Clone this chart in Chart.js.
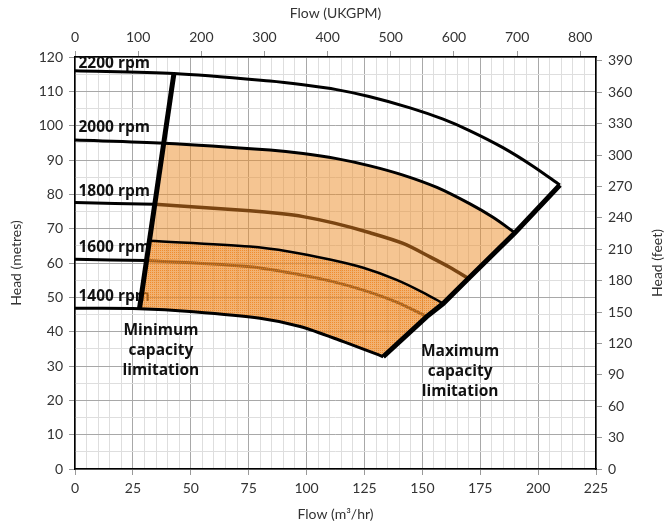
<!DOCTYPE html>
<html>
<head>
<meta charset="utf-8">
<script src="https://cdn.jsdelivr.net/npm/chart.js@4.4.1/dist/chart.umd.min.js"></script>
<style>
html, body { margin: 0; padding: 0; background: #fff; }
#wrap { width: 669px; height: 528px; }
</style>
</head>
<body>
<div id="wrap"><canvas id="pump"></canvas></div>
<script>
// pump curves: flow in m3/hr, head in metres
const flow2200 = [0, 42.75, 84.2, 98.5, 113, 127, 144.7, 159, 170.6, 184.8, 197.8, 209.4];
const head2200 = [116.0, 115.2, 113.0, 111.9, 110.5, 108.5, 105.2, 101.9, 98.5, 93.6, 88.2, 82.7];
const flow2000 = [0, 38.3, 84.2, 98.5, 113, 127.4, 141.7, 156.3, 170.6, 180.5, 190];
const head2000 = [95.8, 94.9, 92.9, 91.9, 90.4, 88.3, 85.6, 82.0, 77.2, 73.3, 68.8];
const flow1800 = [0, 34.5, 75.6, 88.5, 98.5, 112, 127.4, 141.7, 153.3, 162, 169.9];
const head1800 = [77.6, 77.1, 75.2, 74.4, 73.5, 71.6, 68.8, 65.7, 61.8, 58.7, 55.5];
const flow1600 = [0, 30.9, 75.6, 97.2, 110.1, 124.5, 138.9, 151.9];
const head1600 = [61.1, 60.7, 58.9, 56.6, 54.8, 52.1, 48.6, 44.4];
const flow1400 = [0, 27.85, 51.1, 79.9, 97.2, 115.9, 133.1];
const head1400 = [46.8, 46.7, 45.8, 43.9, 41.5, 37.1, 32.7];
// black edge of the darker zone
const flowMid = [32.15, 75.6, 92.8, 110.1, 124.5, 138.9, 150.4, 159];
const headMid = [66.5, 64.8, 63.3, 61.0, 58.6, 55.1, 51.4, 48.2];
// capacity limits
const flowMin = [27.85, 42.75];
const headMin = [46.7, 115.3];
const flowMax = [133.1, 151.9, 159, 169.9, 190, 209.4];
const headMax = [32.7, 44.4, 48.2, 55.5, 68.8, 82.7];

const rpmNames = ["2200 rpm", "2000 rpm", "1800 rpm", "1600 rpm", "1400 rpm"];
const rpmNameHead = [118.0, 99.4, 80.9, 64.6, 50.3];
const rpmNameFlow = 1.5;

const flowTicks = [0, 25, 50, 75, 100, 125, 150, 175, 200, 225];
const headTicks = [0, 10, 20, 30, 40, 50, 60, 70, 80, 90, 100, 110, 120];
const gpmTicks = [0, 100, 200, 300, 400, 500, 600, 700, 800];
const feetTicks = [0, 30, 60, 90, 120, 150, 180, 210, 240, 270, 300, 330, 360, 390];

const M3H_TO_UKGPM = 3.6662;
const M_TO_FT = 3.28084;

function pts(xs, ys) {
  return xs.map((x, i) => ({x: x, y: ys[i]}));
}
function dupEnds(a) {
  return [a[0]].concat(a, [a[a.length - 1]]);
}

const c2000 = pts(flow2000, head2000);
const c1800 = pts(flow1800, head1800);
const c1600 = pts(flow1600, head1600);
const c1400 = pts(flow1400, head1400);
const cMid = pts(flowMid, headMid);
const cMax = pts(flowMax, headMax);

const lightZone = [].concat(
  dupEnds(c2000.slice(1)),
  dupEnds(cMax.filter(p => p.x <= flow2000[flow2000.length - 1]).reverse()),
  dupEnds(c1400.slice(1).reverse())
);
const darkZone = [].concat(
  dupEnds(cMid),
  dupEnds(cMax.filter(p => p.x <= flowMid[flowMid.length - 1]).reverse()),
  dupEnds(c1400.slice(1).reverse())
);

function dotPattern() {
  const c = document.createElement("canvas");
  c.width = 2; c.height = 2;
  const g = c.getContext("2d");
  g.fillStyle = "rgba(235,135,40,0.3)";
  g.fillRect(0, 0, 2, 2);
  g.fillStyle = "rgba(240,125,20,0.7)";
  g.fillRect(0, 0, 1, 1);
  return g.createPattern(c, "repeat");
}

function line(data, color, width, order, tension) {
  return {
    data: data,
    borderColor: color,
    borderWidth: width,
    pointRadius: 0,
    fill: false,
    tension: tension === undefined ? 0.3 : tension,
    order: order
  };
}

const datasets = [
  line(pts(flowMin, headMin), "#000", 5, 1, 0),
  line(cMax, "#000", 5, 1, 0),
  line(pts(flow2200, head2200), "#000", 3, 4),
  line(c2000, "#000", 3, 4),
  line(c1800.slice(0, 2), "#000", 3, 4),
  line(c1600.slice(0, 2), "#000", 3, 4),
  line(c1400, "#000", 3, 4),
  line(cMid, "#000", 2.5, 4),
  {data: darkZone, borderWidth: 0, pointRadius: 0, tension: 0.3, fill: "shape",
   backgroundColor: dotPattern(), order: 6},
  line(c1600.slice(1), "#8a5520", 3, 7),
  line(c1800.slice(1), "#7a4512", 3.5, 8),
  {data: lightZone, borderWidth: 0, pointRadius: 0, tension: 0.3, fill: "shape",
   backgroundColor: "rgba(235,139,37,0.5)", order: 9}
];

const textPlugin = {
  id: "texts",
  beforeDatasetsDraw(chart) {
    const ctx = chart.ctx;
    const xs = chart.scales.x, ys = chart.scales.y;
    ctx.save();
    ctx.fillStyle = "#111";
    ctx.font = "bold 15.5px 'Open Sans'";
    ctx.textAlign = "left";
    ctx.textBaseline = "middle";
    rpmNames.forEach((t, i) => {
      ctx.fillText(t, xs.getPixelForValue(rpmNameFlow), ys.getPixelForValue(rpmNameHead[i]));
    });
    ctx.restore();
  },
  afterDatasetsDraw(chart) {
    const ctx = chart.ctx;
    const xs = chart.scales.x, ys = chart.scales.y;
    const a = chart.chartArea;
    ctx.save();
    ctx.fillStyle = "#111";
    ctx.font = "bold 15.5px 'Open Sans'";
    ctx.textAlign = "center";
    ctx.textBaseline = "middle";
    ["Minimum", "capacity", "limitation"].forEach((t, i) => {
      ctx.fillText(t, xs.getPixelForValue(37.1), ys.getPixelForValue(40.4) + i * 20);
    });
    ["Maximum", "capacity", "limitation"].forEach((t, i) => {
      ctx.fillText(t, xs.getPixelForValue(166.3), ys.getPixelForValue(34.1) + i * 20);
    });
    // axis titles
    ctx.fillStyle = "#333";
    ctx.font = "14px Lato";
    const cx = (a.left + a.right) / 2, cy = (a.top + a.bottom) / 2;
    ctx.fillText("Flow (UKGPM)", cx, 13);
    ctx.fillText("Flow (m\u00b3/hr)", cx, 514);
    ctx.translate(16, cy);
    ctx.rotate(-Math.PI / 2);
    ctx.fillText("Head (metres)", 0, 0);
    ctx.rotate(Math.PI / 2);
    ctx.translate(657 - 16, 0);
    ctx.rotate(-Math.PI / 2);
    ctx.fillText("Head (feet)", 0, 0);
    ctx.restore();
  }
};

function fixedTicks(list) {
  return s => { s.ticks = list.map(v => ({value: v})); };
}
function minorTicks(max, step, major) {
  const out = [];
  for (let v = step; v < max; v += step) {
    if (v % major !== 0) out.push({value: v});
  }
  return s => { s.ticks = out; };
}

const tickFont = {family: "Lato", size: 14};
const tickColor = "#333";

Chart.defaults.font.family = "Lato";

new Chart(document.getElementById("pump"), {
  type: "line",
  data: {datasets: datasets},
  plugins: [textPlugin],
  options: {
    responsive: true,
    maintainAspectRatio: false,
    animation: false,
    layout: {padding: 0},
    plugins: {legend: {display: false}, tooltip: {enabled: false}},
    events: [],
    scales: {
      x: {
        type: "linear", position: "bottom", min: 0, max: 225,
        afterBuildTicks: fixedTicks(flowTicks),
        afterFit: s => { s.height = 59; },
        grid: {color: "#a8a8a8", tickLength: 6, tickColor: "#999"},
        border: {color: "#000", width: 1.5},
        ticks: {font: tickFont, color: tickColor, padding: 5, maxRotation: 0}
      },
      xMinor: {
        type: "linear", position: "bottom", min: 0, max: 225,
        afterBuildTicks: minorTicks(225, 5, 25),
        afterFit: s => { s.height = 0; },
        grid: {color: "#dedede", drawTicks: false},
        border: {display: false},
        ticks: {display: false}
      },
      xTop: {
        type: "linear", position: "top", min: 0, max: 225 * M3H_TO_UKGPM,
        afterBuildTicks: fixedTicks(gpmTicks),
        afterFit: s => { s.height = 57; },
        grid: {drawOnChartArea: false, tickLength: 6, tickColor: "#999"},
        border: {color: "#000", width: 1.5},
        ticks: {font: tickFont, color: tickColor, padding: 5, maxRotation: 0}
      },
      y: {
        type: "linear", position: "left", min: 0, max: 120,
        afterBuildTicks: fixedTicks(headTicks),
        afterFit: s => { s.width = 75; },
        grid: {color: "#a8a8a8", tickLength: 6, tickColor: "#999"},
        border: {color: "#000", width: 1.5},
        ticks: {font: tickFont, color: tickColor, padding: 6}
      },
      yMinor: {
        type: "linear", position: "left", min: 0, max: 120,
        afterBuildTicks: minorTicks(120, 5, 10),
        afterFit: s => { s.width = 0; },
        grid: {color: "#dedede", drawTicks: false},
        border: {display: false},
        ticks: {display: false}
      },
      yRight: {
        type: "linear", position: "right", min: 0, max: 120 * M_TO_FT,
        afterBuildTicks: fixedTicks(feetTicks),
        afterFit: s => { s.width = 73; },
        grid: {drawOnChartArea: false, tickLength: 6, tickColor: "#999"},
        border: {color: "#000", width: 1.5},
        ticks: {font: tickFont, color: tickColor, padding: 6}
      }
    }
  }
});
</script>
</body>
</html>
